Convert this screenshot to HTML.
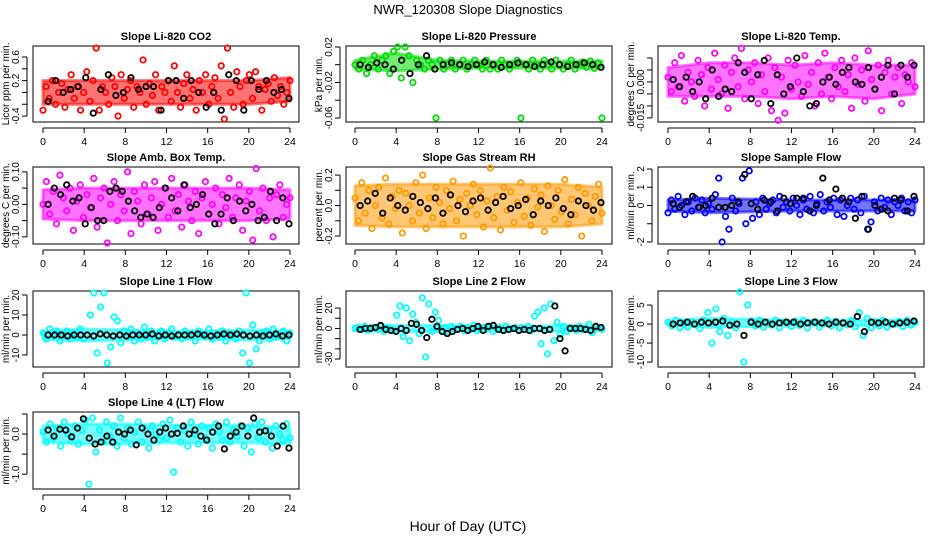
<!DOCTYPE html>
<html><head><meta charset="utf-8">
<style>
html,body{margin:0;padding:0;background:#fff;}
svg{display:block;font-family:"Liberation Sans",sans-serif;}
</style></head>
<body>
<svg id="chart" width="936" height="540" viewBox="0 0 936 540" xmlns="http://www.w3.org/2000/svg">
<text x="468" y="14" text-anchor="middle" font-size="13">NWR_120308  Slope Diagnostics</text>
<text x="468" y="531" text-anchor="middle" font-size="14">Hour of Day (UTC)</text>
</svg>
<script>
// ---- data ----
const xTicks = [0,4,8,12,16,20,24];
const panelTitles = ["Slope Li-820 CO2","Slope Li-820 Pressure","Slope Li-820 Temp.","Slope Amb. Box Temp.","Slope Gas Stream RH","Slope Sample Flow","Slope Line 1 Flow","Slope Line 2 Flow","Slope Line 3 Flow","Slope Line 4 (LT) Flow"];
const yLabels = ["Licor ppm per min.","kPa per min.","degrees C per min.","degrees C per min.","percent per min.","ml/min per min.","ml/min per min.","ml/min per min.","ml/min per min.","ml/min per min."];
const seriesColors = ["#ff0000","#00dd00","#ff00ff","#ff00ff","#ff9900","#0000ff","#00ffff","#00ffff","#00ffff","#00ffff"];

const co2Vals = [-0.3,0.1,-0.1,0.2,-0.2,0.0,0.15,-0.25,0.05,0.3,-0.1,0.1,-0.3,0.0,0.35,-0.15,0.2,0.75,-0.3,0.1,0.0,-0.2,0.25,0.1,-0.4,0.3,-0.1,0.05,0.2,-0.25,0.1,0.0,0.55,-0.2,0.15,-0.05,0.3,-0.3,0.1,0.0,0.2,-0.15,0.45,0.0,-0.25,0.15,0.3,-0.1,0.05,-0.3,0.2,0.0,0.3,-0.2,0.1,0.25,-0.1,0.45,-0.45,0.75,0.0,-0.25,0.35,0.1,-0.2,0.2,0.3,-0.1,0.35,0.1,-0.3,0.05,0.15,-0.15,0.25,-0.05,0.1,-0.2,0.0,0.2];
const co2Black = [-0.15,0.2,0.0,0.05,0.1,0.25,-0.35,0.05,0.3,-0.05,0.0,0.25,0.05,0.1,0.1,-0.3,0.2,0.2,-0.1,0.2,0.0,-0.25,0.0,-0.3,0.3,0.2,-0.3,0.2,0.05,0.2,0.0,0.05,-0.1];
const presVals = [0,-0.005,0.005,-0.01,0,0.01,-0.005,0.005,0.01,-0.01,0.015,0.02,-0.015,0.02,0.01,-0.02,0.005,0,-0.005,0.005,0,-0.06,0.005,-0.005,0,0.005,-0.005,0,0.005,-0.005,0,0.005,0,-0.005,0.005,-0.005,0,-0.005,0.005,0,-0.005,0,0.005,-0.06,0,-0.005,0.005,0,-0.005,0.005,0,-0.005,0.005,0,-0.005,0,0.005,-0.005,0,0.003,-0.003,0.004,-0.004,0.002,-0.06];
const presBlack = [0,-0.003,0.002,0,-0.005,0.005,-0.01,0,0.01,-0.005,0,0.002,0,-0.002,0,0.003,0,-0.003,0,0.002,0,-0.002,0,0.003,0,-0.002,0,0.002,0,-0.003];
const tempVals = [0.002,-0.004,0.008,-0.002,0.011,-0.008,0.004,0.0,-0.006,0.009,0.003,-0.010,0.006,-0.003,0.012,0.001,-0.005,0.007,-0.011,0.004,0.010,-0.002,0.014,-0.007,0.005,0.0,0.008,-0.009,0.003,-0.004,0.010,-0.012,0.006,-0.016,0.002,-0.013,0.009,-0.003,0.007,0.0,-0.006,0.011,-0.001,0.004,-0.010,0.008,-0.005,0.012,0.002,-0.007,0.006,-0.002,0.009,-0.004,0.003,-0.011,0.010,-0.001,0.005,-0.008,0.013,0.001,-0.003,0.007,-0.012,0.004,0.009,-0.005,0.002,0.006,-0.009,0.003,0.0,0.008,-0.002];
const tempBlack = [0.001,-0.002,0.002,-0.004,0.0,-0.007,0.005,-0.006,-0.003,-0.004,0.008,0.004,-0.007,0.003,0.009,-0.009,0.003,-0.005,-0.002,0.010,-0.004,-0.010,-0.009,0.0,0.002,-0.001,0.004,0.006,0.0,-0.001,0.006,-0.003,0.002,0.007,-0.005,0.007,0.002,0.007];
const ambVals = [0.0,0.07,-0.03,0.04,-0.06,0.09,0.02,-0.02,0.05,-0.08,0.01,0.06,-0.04,0.03,-0.01,0.08,-0.07,0.02,0.05,-0.12,0.0,0.07,-0.05,0.03,-0.02,0.10,-0.09,0.04,0.01,-0.06,0.06,-0.03,0.02,0.07,-0.08,0.0,0.05,-0.04,0.08,-0.02,0.03,-0.07,0.06,0.01,-0.05,0.04,-0.09,0.02,0.07,-0.03,0.0,0.05,-0.06,0.03,-0.01,0.08,-0.04,0.02,0.06,-0.08,0.01,0.04,-0.11,0.11,-0.02,0.05,-0.05,0.02,-0.10,0.03,0.06,-0.04,0.0,0.02];
const ambBlack = [0.0,0.05,0.03,0.06,0.01,0.02,-0.06,-0.01,-0.05,-0.05,0.04,0.05,0.04,0.01,-0.02,-0.04,-0.03,-0.04,-0.01,0.05,0.02,-0.02,0.06,-0.01,0.0,0.03,-0.03,-0.06,-0.03,0.02,-0.05,0.01,-0.02,0.0,-0.05,-0.04,0.04,-0.05,0.02,-0.06];
const rhVals = [0.05,-0.1,0.15,-0.05,0.1,-0.15,0.0,0.12,-0.08,0.18,-0.12,0.06,-0.02,0.1,-0.18,0.08,0.0,-0.1,0.15,-0.05,0.2,-0.15,0.05,-0.08,0.12,0.02,-0.12,0.1,-0.02,0.16,-0.1,0.04,-0.2,0.08,0.0,0.14,-0.06,0.1,-0.14,0.03,0.26,-0.08,0.06,-0.16,0.12,-0.03,0.09,-0.11,0.02,0.15,-0.07,0.05,-0.13,0.11,-0.01,0.07,-0.17,0.13,0.0,-0.09,0.1,-0.04,0.17,-0.12,0.04,-0.06,0.12,-0.2,0.08,0.0,-0.1,0.06,0.14,-0.05];
const rhBlack = [0.0,0.03,0.08,-0.05,0.05,0.0,-0.03,0.06,0.02,-0.02,0.05,-0.05,0.07,0.0,-0.04,0.03,0.05,-0.03,0.02,0.06,-0.02,0.0,0.04,-0.06,0.03,0.0,0.05,-0.02,-0.06,0.03,0.0,-0.03,0.02];
const flowVals = [-0.4,0.3,-0.2,0.5,0.0,-0.5,0.2,-0.3,0.4,-0.1,0.3,-0.4,0.1,-0.2,0.6,1.5,-2.0,-0.6,-1.3,0.4,-0.3,0.1,1.5,-1.0,1.9,-0.7,0.2,-0.5,0.4,-0.2,0.1,0.3,-0.4,0.5,-0.1,0.2,-0.3,0.4,0.0,-0.5,0.3,-0.2,0.5,-0.4,0.1,0.6,-0.3,0.2,-0.1,0.4,-0.5,0.3,-0.6,0.0,0.4,-0.2,0.3,-0.4,0.5,-1.3,-0.9,0.2,-0.3,0.4,-0.1,0.3,-0.5,0.2,0.0,0.4,-0.3,0.2,-0.4,0.3];
const flowBlack = [0.1,-0.1,0.2,0.5,-0.1,0.0,0.4,-0.1,-0.1,0.0,0.2,1.7,0.1,-0.2,0.3,0.2,-0.3,0.4,0.1,0.4,0.4,-0.3,0.0,1.5,0.3,0.9,0.4,0.2,-0.7,0.5,-1.3,0.0,-0.2,-0.3,0.4,0.3,-0.3,0.5];
const line1Vals = [1,-2,3,-1,2,-3,0,2,-2,1,-1,3,-2,0,10,21,-9,14,21,-14,-6,9,7,-4,2,-1,3,-3,1,-2,4,-1,2,-3,0,2,-2,1,3,-1,0,-2,2,-1,1,-3,2,0,-1,3,-2,1,-1,2,-3,1,0,-2,2,-9,21,-14,5,-7,-3,1,2,-2,3,-1,0,2,-3,1];
const line1Black = [0,0,0,-0.5,0,0,0,-0.5,0.5,0,-0.5,0,-0.5,0,0,0,0.5,-0.5,0,-0.5,0,0,0,0.5,0,-0.5,0,0.5,0,0.5,0,-0.5,0,-0.5,0,0.5,-0.5,0];
const line2Vals = [0,1,-1,2,-2,1,0,-1,2,-3,1,0,-2,13,22,-8,20,-12,14,6,-5,30,-28,24,-3,16,8,-2,1,-3,2,-1,0,2,-2,1,-1,3,-2,0,1,-1,2,-3,0,1,-2,2,-1,0,1,-2,1,-1,2,-2,12,16,-15,20,-25,24,-12,6,-6,2,-3,1,0,-2,2,-1,1,4,-4,2,0,-1];
const line2Black = [-1,0,0,1,3,-1,-2,-3,0,-2,5,4,-2,-9,9,2,-3,-5,-3,-1,0,-2,0,2,-2,2,3,-1,-2,-1,0,-2,-1,-2,0,0,-2,-1,22,-10,-22,0,0,0,-1,-2,2,1];
const line3Vals = [0.5,-0.5,1,-1,0.3,-0.8,0.6,0,-1.2,1,3,-5,4,-2,1.5,-3,0.5,-1,9,-10,5,0.8,-0.5,1,-0.8,0.4,-0.3,1,-1,0.5,0,-0.6,0.8,-0.4,1,-1,0.3,0.6,-0.8,0,1,-0.5,0.7,-1,0.4,-0.2,0.9,-0.7,3,-3,1.5,-1,0.6,-0.5,1,-0.8,0.3,0,0.7,-0.6,1,-0.3,0.5];
const line3Black = [0,0.3,0.5,0,0.5,0.3,0.5,0.8,-0.3,0,-3,0.5,0,0.5,0,0.3,0.5,0.5,0,0.3,0.5,0.3,0,0.5,0.3,0,2,-2,0.5,0.3,0.5,0,0.3,0.5,0.8];
const line4Vals = [0.05,-0.2,0.25,-0.1,0.15,-0.3,0.3,0.0,-0.15,0.2,-0.25,0.1,0.35,-1.25,0.4,-0.45,0.1,-0.2,0.3,-0.05,0.2,-0.3,0.4,-0.1,0.15,-0.25,0.05,0.3,-0.2,0.1,-0.35,0.2,0.0,-0.15,0.25,-0.1,0.35,-0.95,0.15,-0.2,0.1,-0.3,0.3,0.0,-0.25,0.2,-0.1,0.15,-0.35,0.25,0.05,-0.15,0.3,-0.2,0.1,-0.05,0.2,-0.3,0.15,-0.45,0.25,-0.1,0.3,-0.2,0.1,-0.35,0.2,0.0,-0.15,0.25,-0.1];
const line4Black = [0.1,-0.05,0.12,0.1,-0.07,0.15,0.38,-0.1,-0.25,-0.2,-0.05,-0.2,0.05,0.0,0.1,-0.27,0.15,0.0,-0.15,0.05,0.15,0.0,0.02,0.2,0.0,0.1,-0.05,-0.15,0.05,0.2,-0.37,-0.05,0.05,0.2,-0.05,0.4,0.05,0.08,-0.05,-0.3,0.2,-0.35];

// Dense-cloud extent per panel at hours 0,4,8,12,16,20,24 (centre and half-width, data units)
const bandHours = [0,4,8,12,16,20,24];
const bandCenters = [[0,0,0,0,0,0,0.05],[0,0.003,0,0,0,0,0],[0,0.001,0.001,0,0.001,0,0.001],[0,0,0,0,0,0,0],[0,0,0,0,0,0,0],[0,0,0,0,0,0,0],[0,0,0,0,0,0,0],[0,0,0,0,0,0,0],[0.3,0.3,0.3,0.3,0.3,0.3,0.3],[0,0,0,0,0,0,-0.05]];
const bandHalfWidths = [[0.2,0.2,0.2,0.2,0.2,0.2,0.2],[0.005,0.01,0.005,0.004,0.004,0.004,0.004],[0.006,0.007,0.007,0.007,0.007,0.007,0.006],[0.045,0.05,0.05,0.05,0.05,0.05,0.045],[0.13,0.14,0.14,0.14,0.14,0.14,0.12],[0.3,0.4,0.35,0.3,0.3,0.3,0.3],[2,3,2.5,2,2,2.5,2],[2,3,3,2,2,3,2],[0.6,1.2,1,0.6,0.6,0.8,0.6],[0.2,0.25,0.25,0.22,0.22,0.22,0.2]];

const colorSeries = [co2Vals,presVals,tempVals,ambVals,rhVals,flowVals,line1Vals,line2Vals,line3Vals,line4Vals];
const blackSeries = [co2Black,presBlack,tempBlack,ambBlack,rhBlack,flowBlack,line1Black,line2Black,line3Black,line4Black];
const yTicks = [[-0.4,-0.2,0,0.2,0.4,0.6],[-0.06,-0.04,-0.02,0,0.02],[-0.015,-0.010,-0.005,0,0.005,0.010],[-0.10,-0.05,0,0.05,0.10],[-0.2,-0.1,0,0.1,0.2],[-2,-1,0,1,2],[-10,0,10,20],[-30,-20,-10,0,10,20],[-10,-5,0,5],[-1.0,-0.5,0,0.5]];
const yTickLabels = [["-0.4","","","0.2","","0.6"],["-0.06","","-0.02","","0.02"],["-0.015","","","0.000","",""],["-0.10","","0.00","","0.10"],["-0.2","","0.0","","0.2"],["-2","","0","1","2"],["-10","0","10","20"],["-30","","","0","","20"],["-10","-5","0","5"],["-1.0","","0.0",""]];
const yRanges = [[-0.50,0.786],[-0.0645,0.021],[-0.0167,0.015],[-0.122,0.115],[-0.252,0.253],[-2.11,2.11],[-16,22],[-37.8,36.7],[-11.3,8.7],[-1.37,0.55]];

// ---- layout ----
const cols = [[33,299,43,290],[346,612,355,602],[658,924,668,915]];
const rows = [[46,122],[167,244],[291,367],[412,489]];
const NS = "http://www.w3.org/2000/svg";
const svg = document.getElementById('chart');
function mk(tag, attrs, parent){const e=document.createElementNS(NS,tag);for(const k in attrs)e.setAttribute(k,attrs[k]);(parent||svg).appendChild(e);return e;}

for(let p=0;p<10;p++){
  const c=cols[p%3], r=rows[Math.floor(p/3)];
  const [L,R,x0,x24]=c, [T,B]=r;
  const [ymin,ymax]=yRanges[p];
  const xs=h=>x0+(x24-x0)*h/24;
  const ys=v=>Math.max(T+1,Math.min(B-1,B-(v-ymin)/(ymax-ymin)*(B-T)));
  const g=mk('g',{});
  
  
  const t=mk('text',{x:(L+R)/2,y:T-6,'text-anchor':'middle','font-size':'11','font-weight':'bold'},g);
  t.textContent=panelTitles[p];
  
  
  const cx=L-24, cy=(T+B)/2;
  const yl=mk('text',{x:cx,y:cy,'text-anchor':'middle','font-size':'10',transform:`rotate(-90 ${cx} ${cy})`},g);
  yl.textContent=yLabels[p];
  
  
  const bc=bandCenters[p], bw=bandHalfWidths[p];
  let pts=[];
  bandHours.forEach((h,i)=>pts.push(xs(h)+','+ys(bc[i]+bw[i])));
  for(let i=bandHours.length-1;i>=0;i--) pts.push(xs(bandHours[i])+','+ys(bc[i]-bw[i]));
  const band=mk('polygon',{points:pts.join(' '),fill:seriesColors[p],'fill-opacity':'0.55',stroke:seriesColors[p],'stroke-width':'3','stroke-opacity':'0.55','stroke-linejoin':'round'},g);
  
  
  const ax=mk('g',{stroke:'#000','stroke-width':'1',fill:'none'},g);
  
  
  mk('rect',{x:L,y:T,width:R-L,height:B-T},ax);
  mk('line',{x1:xs(0),y1:B+6,x2:xs(24),y2:B+6},ax);
  xTicks.forEach(h=>{
    mk('line',{x1:xs(h),y1:B+6,x2:xs(h),y2:B+11},ax);
    const tl=mk('text',{x:xs(h),y:B+23,'text-anchor':'middle','font-size':'10.5',fill:'#000',stroke:'none'},g);
    tl.textContent=h;
    
    
  });
  const yt=yTicks[p];
  mk('line',{x1:L-6,y1:ys(yt[0]),x2:L-6,y2:ys(yt[yt.length-1])},ax);
  yt.forEach((v,i)=>{
    mk('line',{x1:L-6,y1:ys(v),x2:L-11,y2:ys(v)},ax);
    if(yTickLabels[p][i]){
      const tx=L-14, ty=ys(v);
      const tl=mk('text',{x:tx,y:ty,'text-anchor':'middle','font-size':'10',transform:`rotate(-90 ${tx} ${ty})`},g);
      tl.textContent=yTickLabels[p][i];
      
      
    }
  });
  const cs=colorSeries[p], n=cs.length;
  const pg=mk('g',{fill:'none',stroke:seriesColors[p],'stroke-width':'1.8'},g);
  
  
  cs.forEach((v,i)=>{
    const h=24*i/(n-1);
    const pt=mk('circle',{cx:xs(h),cy:ys(v),r:2.7},pg);
    
    
  });
  const bs=blackSeries[p], m=bs.length;
  const bg=mk('g',{fill:'none',stroke:'#000','stroke-width':'1.8'},g);
  
  
  bs.forEach((v,i)=>{
    const h=0.5+23.4*i/(m-1);
    const pt=mk('circle',{cx:xs(h),cy:ys(v),r:2.7},bg);
    
    
  });
}
</script>
</body></html>
